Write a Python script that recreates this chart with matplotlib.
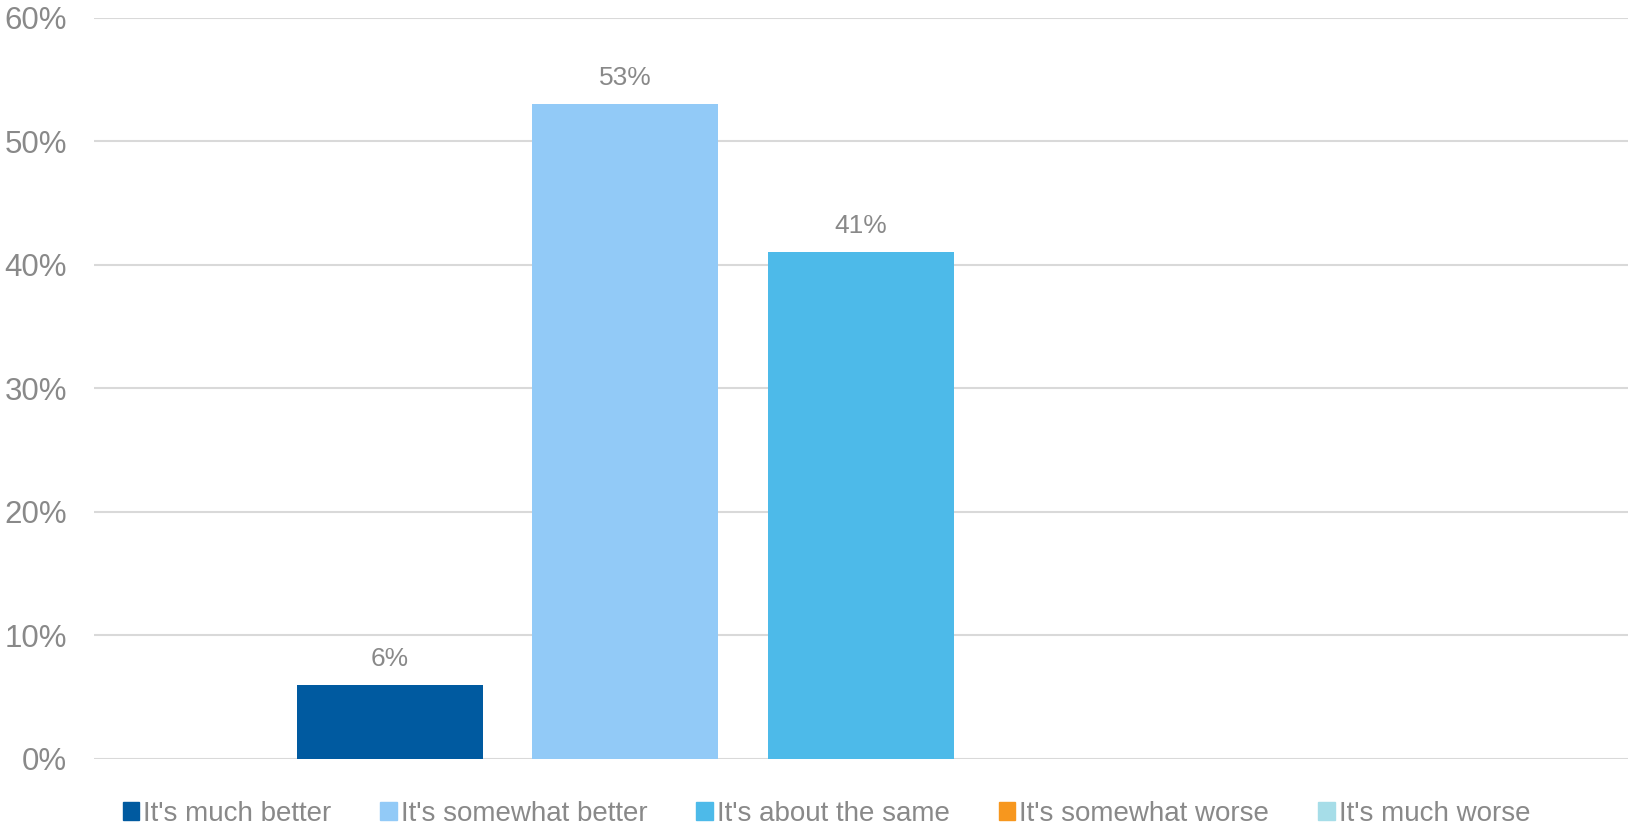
import matplotlib
matplotlib.use("Agg")
import matplotlib.pyplot as plt
from matplotlib.ticker import FuncFormatter
from matplotlib.patches import Patch

series = ["It's much better", "It's somewhat better", "It's about the same",
          "It's somewhat worse", "It's much worse"]
values = [6, 53, 41, 0, 0]
colors = ["#005AA0", "#92CAF7", "#4DBAE9", "#F7971E", "#A6DDE8"]
yticks = [0, 10, 20, 30, 40, 50, 60]

plt.rcParams['font.family'] = ['Liberation Sans', 'DejaVu Sans']
gray = "#898989"

fig = plt.figure(figsize=(16.3, 8.26), dpi=100)
ax = fig.add_axes([0.0574, 0.0814, 0.9414, 0.8972])

width = 0.1212
step = 0.1535
for i, (s, v, c) in enumerate(zip(series, values, colors)):
    x = (i - 2) * step
    bars = ax.bar([x], [v], width=width, color=c, label=s, zorder=3)
    if v > 0:
        ax.bar_label(bars, labels=[f"{v}%"], padding=10, fontsize=19, color=gray)

ax.set_xlim(-0.5, 0.5)
ax.set_ylim(0, 60)
ax.set_yticks(yticks)
ax.yaxis.set_major_formatter(FuncFormatter(lambda v, p: f"{int(v)}%"))
ax.tick_params(axis='y', length=0, labelsize=22.5, labelcolor=gray, pad=19)
ax.set_xticks([])
ax.grid(axis='y', color='#D9D9D9', linewidth=1.5, zorder=0)
for sp in ax.spines.values():
    sp.set_visible(False)

handles = [Patch(color=c) for c in colors]
fig.legend(handles, series, loc='center', bbox_to_anchor=(0.507, 0.015), ncol=5,
           frameon=False, fontsize=20, labelcolor=gray, handlelength=0.6,
           handleheight=0.6, handletextpad=0.15, columnspacing=1.75)

fig.savefig("out.png", dpi=100)
